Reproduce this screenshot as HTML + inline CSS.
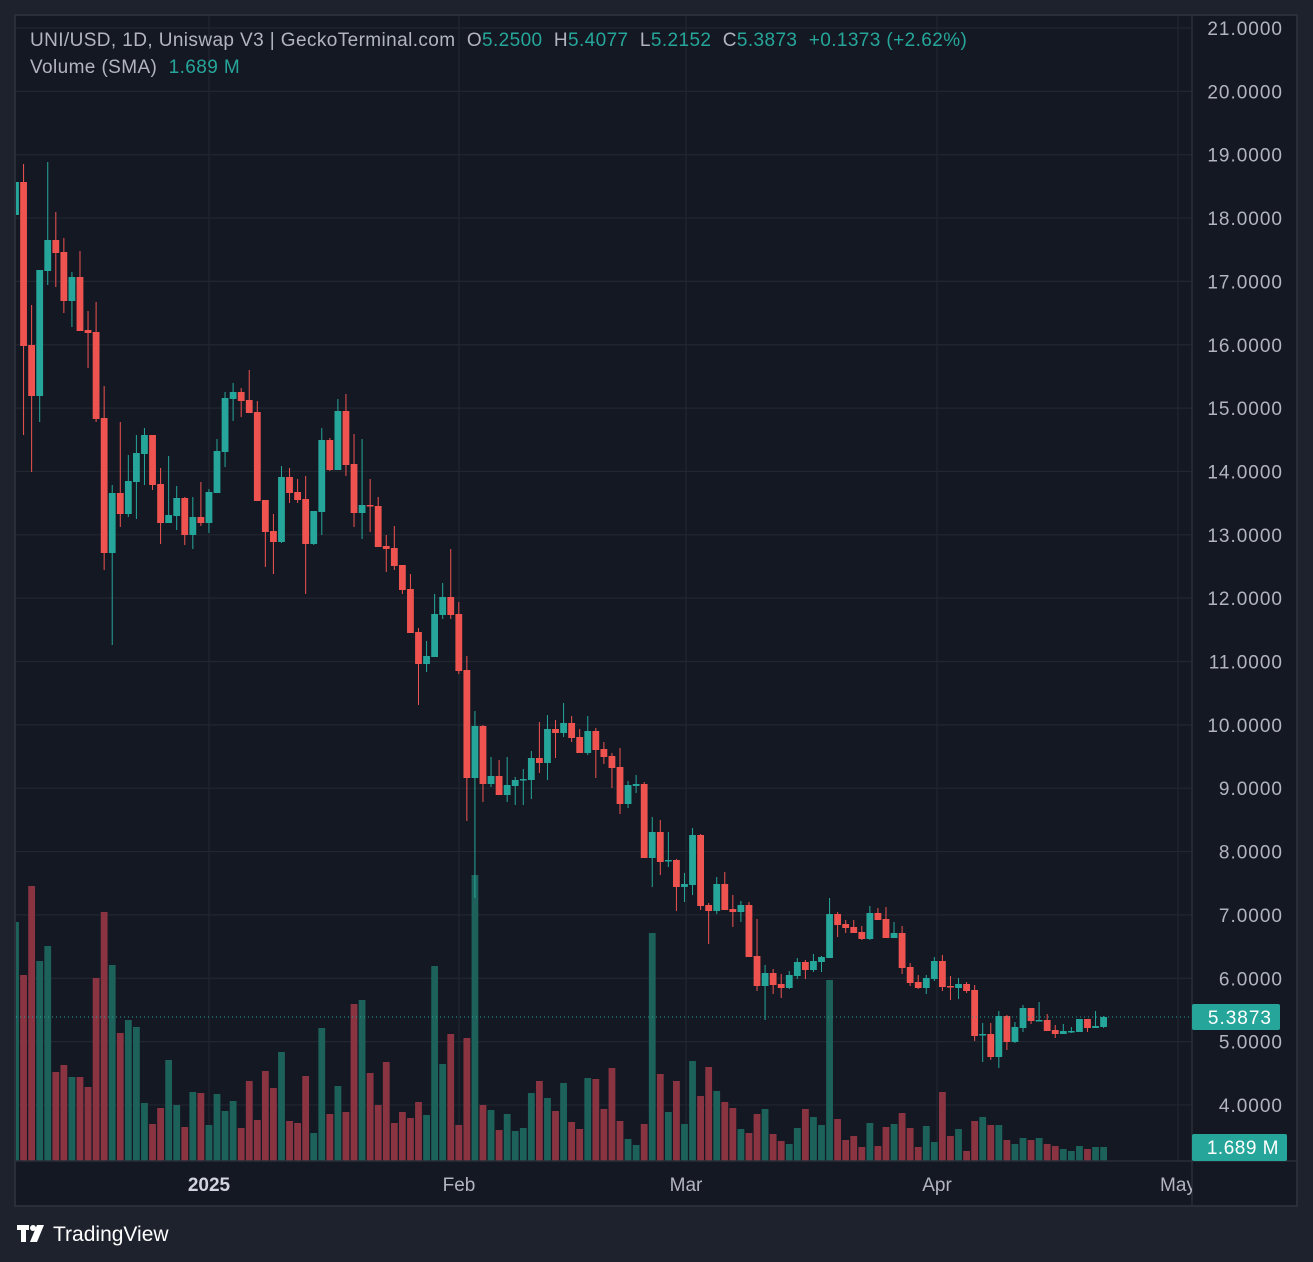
<!DOCTYPE html>
<html><head><meta charset="utf-8">
<style>
html,body{margin:0;padding:0;background:#1e222d;width:1313px;height:1262px;overflow:hidden;font-family:"Liberation Sans",sans-serif;}
#wrap{position:absolute;left:0;top:0;width:1313px;height:1262px;}
.hdr{position:absolute;left:30px;font-size:19px;letter-spacing:0.4px;color:#b2b5be;white-space:pre;}
.g{color:#26a69a}
</style></head><body>
<div id="wrap">
<svg id="s" width="1313" height="1262" xmlns="http://www.w3.org/2000/svg" style="position:absolute;left:0;top:0">
<defs><clipPath id="cp"><rect x="16" y="16" width="1176" height="1145"/></clipPath></defs>
<rect x="15" y="15" width="1282" height="1191" fill="#141823" stroke="#2a2e39" stroke-width="2"/>
<g id="grid"></g>
<g id="vol" clip-path="url(#cp)"></g>
<g id="cdl" clip-path="url(#cp)"></g>
<line x1="16" y1="1017" x2="1192" y2="1017" stroke="#26a69a" stroke-width="1" stroke-dasharray="1,3"/>
<line x1="1192" y1="16" x2="1192" y2="1206" stroke="#2a2e39" stroke-width="1.5"/>
<line x1="16" y1="1161" x2="1296" y2="1161" stroke="#2a2e39" stroke-width="1.5"/>
<g id="lbl" font-family="Liberation Sans, sans-serif" font-size="19" letter-spacing="1" fill="#b2b5be"></g>
<rect x="1192" y="1004" width="88" height="26" rx="2" fill="#26a69a"/>
<text x="1272" y="1024" text-anchor="end" font-family="Liberation Sans, sans-serif" font-size="19" letter-spacing="1" fill="#ffffff">5.3873</text>
<rect x="1192" y="1134" width="95" height="27" rx="2" fill="#26a69a"/>
<text x="1279" y="1154" text-anchor="end" font-family="Liberation Sans, sans-serif" font-size="19" letter-spacing="0.5" fill="#ffffff">1.689 M</text>
<g font-family="Liberation Sans, sans-serif" font-size="19" fill="#b2b5be">
<text x="209" y="1191" text-anchor="middle" font-weight="bold" fill="#d1d4dc">2025</text>
<text x="459" y="1191" text-anchor="middle">Feb</text>
<text x="686" y="1191" text-anchor="middle">Mar</text>
<text x="937" y="1191" text-anchor="middle">Apr</text>
</g>
<svg x="1100" y="1165" width="92" height="40"><text x="78" y="26" text-anchor="middle" font-family="Liberation Sans, sans-serif" font-size="19" fill="#b2b5be">May</text></svg>
<g fill="#ffffff">
<rect x="17" y="1225" width="12" height="5"/><rect x="21" y="1225" width="5" height="17"/>
<circle cx="33" cy="1228" r="3"/><polygon points="37,1225 44,1225 37,1242 30,1242"/>
</g>
<text x="53" y="1241" font-family="Liberation Sans, sans-serif" font-size="21" fill="#ffffff">TradingView</text>
</svg>
<div class="hdr" style="top:30px">UNI/USD, 1D, Uniswap V3 | GeckoTerminal.com  O<span class="g">5.2500</span>  H<span class="g">5.4077</span>  L<span class="g">5.2152</span>  C<span class="g">5.3873</span>  <span class="g">+0.1373 (+2.62%)</span></div>
<div class="hdr" style="top:57px">Volume (SMA)  <span class="g">1.689 M</span></div>
</div>
<script>
var C="t 182 215 163 215|r 182 346 164 435|r 345 396 305 472|t 270 396 270 422|t 240 271 162 285|r 240 253 212 287|r 252 301 238 313|t 277 301 272 327|r 277 331 251 331|r 330 333 311 368|r 332 419 302 422|r 418 553 386 570|t 493 553 485 645|r 493 514 422 527|t 481 514 455 517|t 453 482 435 519|t 435 454 428 485|r 435 485 435 490|r 484 523 468 544|t 515 523 456 523|t 498 516 486 530|r 498 535 497 545|t 517 535 497 549|r 517 523 482 526|t 492 523 489 533|t 451 493 439 493|t 398 452 392 467|t 392 399 383 421|r 392 401 388 417|r 400 413 370 413|r 412 501 401 501|r 500 532 500 567|r 531 542 514 574|t 477 542 466 543|r 477 493 468 503|r 492 500 479 503|r 499 544 476 594|t 511 544 511 545|t 440 512 428 535|r 440 470 438 471|t 411 470 399 470|r 411 465 394 476|r 464 513 434 527|t 505 513 439 539|r 505 506 479 532|r 506 547 497 547|r 546 549 535 572|r 548 566 526 570|r 565 590 565 594|r 589 633 574 633|r 632 664 628 705|t 656 664 641 672|t 614 657 594 657|t 597 615 583 619|r 597 615 549 619|r 614 671 602 674|r 670 778 656 821|t 726 778 711 898|r 726 784 725 802|t 776 784 757 787|r 776 795 760 795|t 785 795 757 802|t 780 786 777 805|t 779 780 769 805|t 758 780 751 799|r 758 763 722 773|t 729 763 715 780|r 729 733 720 758|t 723 733 703 737|r 723 738 716 742|r 737 753 729 753|t 731 753 716 755|r 731 750 728 778|r 749 757 742 764|r 756 768 753 788|r 767 804 748 814|t 785 804 781 808|t 784 786 775 793|r 784 858 782 858|t 832 858 817 887|r 832 862 820 875|t 860 861 832 867|r 860 887 859 911|t 884 887 873 902|t 835 885 828 895|r 835 906 834 910|r 905 911 903 944|t 884 911 877 914|r 884 910 872 910|r 909 912 895 927|t 905 912 901 922|r 905 957 902 957|r 956 986 919 991|t 973 986 965 1020|r 973 985 969 994|r 984 988 974 998|t 975 988 971 989|t 962 976 958 979|r 962 970 960 979|t 961 970 954 972|t 957 962 956 972|t 914 958 898 958|r 914 925 912 937|r 924 928 920 933|r 927 933 920 933|r 932 939 926 940|t 913 939 906 940|r 913 920 908 920|r 919 938 907 938|t 933 938 922 938|r 933 968 926 974|r 967 983 963 986|r 982 988 975 989|t 978 988 975 994|t 961 979 957 981|r 961 987 955 991|r 986 987 976 1000|t 984 988 978 999|r 984 991 982 993|r 990 1036 985 1041|t 1034 1035 1023 1062|r 1034 1057 1023 1060|t 1016 1057 1011 1068|r 1016 1042 1015 1050|t 1027 1042 1022 1043|t 1008 1028 1005 1032|r 1008 1021 1008 1024|t 1020 1021 1002 1021|r 1020 1031 1014 1031|r 1030 1034 1025 1038|t 1031 1034 1024 1034|t 1031 1032 1027 1033|t 1019 1032 1019 1032|r 1019 1028 1019 1032|t 1026 1028 1011 1028|t 1017 1027 1016 1028".split("|");
var V=[922,975,886,961,946,1072,1065,1077,1077,1087,978,912,965,1033,1020,1027,1103,1124,1108,1060,1105,1127,1092,1093,1125,1094,1111,1101,1128,1081,1120,1071,1088,1052,1121,1123,1076,1133,1028,1114,1086,1112,1004,1000,1073,1105,1062,1123,1112,1118,1102,1115,966,1064,1034,1125,1038,875,1105,1110,1130,1114,1131,1128,1093,1081,1098,1111,1083,1122,1129,1078,1079,1109,1068,1121,1139,1145,1124,933,1074,1112,1081,1124,1061,1096,1067,1091,1102,1108,1129,1133,1114,1109,1134,1141,1144,1128,1109,1117,1125,980,1119,1140,1136,1147,1123,1146,1127,1124,1113,1128,1147,1126,1142,1092,1136,1129,1151,1121,1117,1125,1125,1140,1144,1138,1140,1138,1144,1146,1149,1151,1146,1149,1147,1147];
var NS="http://www.w3.org/2000/svg";
function el(p,t,a){var e=document.createElementNS(NS,t);for(var k in a)e.setAttribute(k,a[k]);p.appendChild(e);return e;}
var grid=document.getElementById("grid"),vol=document.getElementById("vol"),cdl=document.getElementById("cdl"),lbl=document.getElementById("lbl");
for(var p=21;p>=4;p--){var y=28+(21-p)*63.35;el(grid,"line",{x1:16,x2:1192,y1:y,y2:y,stroke:"#22262f","stroke-width":1.2});
 var t=el(lbl,"text",{x:1283,y:y+7,"text-anchor":"end"});t.textContent=p.toFixed(4);}
[209,459,686,937,1178].forEach(function(x){el(grid,"line",{x1:x,x2:x,y1:16,y2:1161,stroke:"#22262f","stroke-width":1.2});});
for(var i=0;i<C.length;i++){var d=C[i].split(" "),cx=15.5+i*8.06,col=d[0]=="t"?"#26a69a":"#ef5350";
 var vc=d[0]=="t"?"#1d615b":"#8a3442";
 el(vol,"rect",{x:cx-3.4,y:V[i],width:6.8,height:1161-V[i],fill:vc});
 var bt=+d[1],bb=+d[2],wt=+d[3],wb=+d[4];
 el(cdl,"rect",{x:cx-0.5,y:wt,width:1,height:Math.max(wb-wt,1),fill:col});
 el(cdl,"rect",{x:cx-3.4,y:bt,width:6.8,height:Math.max(bb-bt,1.5),fill:col});}
</script>
</body></html>
